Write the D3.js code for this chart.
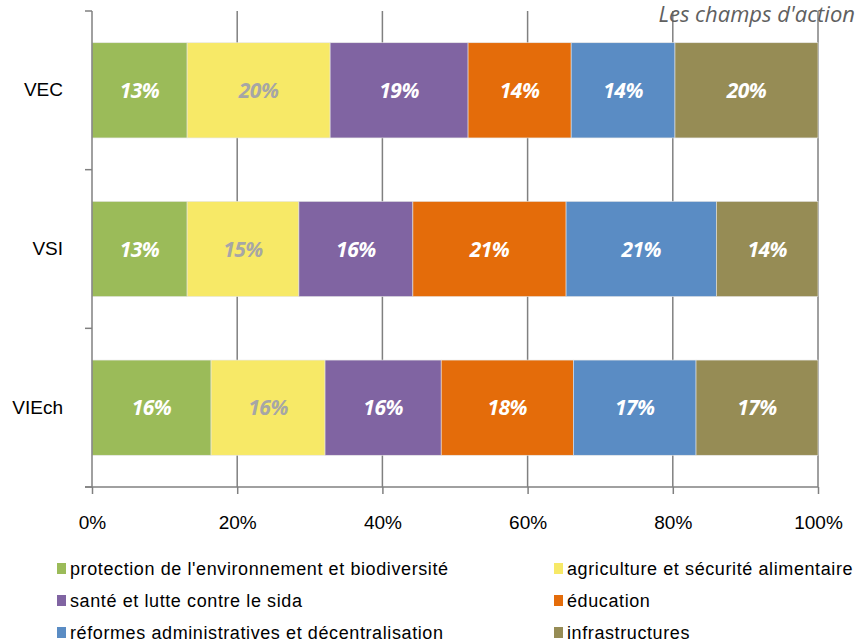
<!DOCTYPE html>
<html>
<head>
<meta charset="utf-8">
<script src="https://cdn.jsdelivr.net/npm/d3@7"></script>
<style>
  body { margin: 0; background: #fff; }
  svg { display: block; }
</style>
</head>
<body>
<svg id="chart" width="865" height="644"></svg>
<script>
// categories (top to bottom) and share of each field of action
const programmes = ["VEC", "VSI", "VIEch"];
const champs = [
  "protection de l'environnement et biodiversité",
  "agriculture et sécurité alimentaire",
  "santé et lutte contre le sida",
  "éducation",
  "réformes administratives et décentralisation",
  "infrastructures"
];
const vecValues = [0.131, 0.197, 0.190, 0.142, 0.143, 0.197];
const vsiValues = [0.131, 0.154, 0.157, 0.211, 0.207, 0.140];
const viechValues = [0.164, 0.157, 0.160, 0.182, 0.169, 0.168];
const xTicks = [0, 0.2, 0.4, 0.6, 0.8, 1];

const colors = ["#9BBB59", "#F7E967", "#8064A2", "#E46C0A", "#5A8CC4", "#968C55"];
const labelColors = ["#fff", "#A6A6A6", "#fff", "#fff", "#fff", "#fff"];

const rows = [vecValues, vsiValues, viechValues];
const svg = d3.select("#chart");

const margin = { top: 11, left: 92, right: 47, bottom: 157 };
const width = 865 - margin.left - margin.right;
const height = 644 - margin.top - margin.bottom;

const x = d3.scaleLinear().domain([0, 1]).range([0, width]);
const y = d3.scaleBand().domain(programmes).range([0, height]).paddingInner(0.4).paddingOuter(0.2);

const g = svg.append("g").attr("transform", `translate(${margin.left},${margin.top})`);

// vertical gridlines
g.selectAll(".grid")
  .data(xTicks.slice(1))
  .join("line")
    .attr("x1", d => x(d)).attr("x2", d => x(d))
    .attr("y1", 0).attr("y2", height)
    .attr("stroke", "#808080").attr("stroke-width", 1.5);

// stack each row
const stacked = rows.map((vals, i) => {
  let acc = 0;
  return vals.map((v, j) => {
    const s = { prog: programmes[i], k: j, x0: acc, x1: acc + v, v: v };
    acc += v;
    return s;
  });
}).flat();

g.selectAll(".seg")
  .data(stacked)
  .join("rect")
    .attr("class", "seg")
    .attr("x", d => x(d.x0))
    .attr("y", d => y(d.prog))
    .attr("width", d => x(d.x1) - x(d.x0))
    .attr("height", y.bandwidth())
    .attr("fill", d => colors[d.k])
    .attr("stroke", "#e6e6e6")
    .attr("stroke-width", 0.6);

g.selectAll(".lbl")
  .data(stacked)
  .join("text")
    .attr("x", d => x((d.x0 + d.x1) / 2))
    .attr("y", d => y(d.prog) + y.bandwidth() / 2)
    .attr("dy", "0.36em")
    .attr("text-anchor", "middle")
    .attr("font-family", "'Open Sans', sans-serif")
    .attr("font-style", "italic")
    .attr("font-weight", "bold")
    .attr("font-size", 21)
    .attr("letter-spacing", -0.5)
    .attr("fill", d => labelColors[d.k])
    .text(d => Math.round(d.v * 100) + "%");

// y axis
const yAxis = d3.axisLeft(y).tickSize(0).tickPadding(29);
const yg = g.append("g").call(yAxis);
yg.select(".domain").remove();
yg.selectAll("text")
  .attr("font-family", "'Liberation Sans', Arial, sans-serif")
  .attr("font-size", 19).attr("fill", "#000");

g.append("line")
  .attr("x1", 0).attr("x2", 0).attr("y1", 0).attr("y2", height)
  .attr("stroke", "#808080").attr("stroke-width", 1.5);
g.selectAll(".ytick")
  .data(d3.range(programmes.length + 1))
  .join("line")
    .attr("x1", -7).attr("x2", 0)
    .attr("y1", i => i * height / programmes.length)
    .attr("y2", i => i * height / programmes.length)
    .attr("stroke", "#808080").attr("stroke-width", 1.5);

// x axis
const xAxis = d3.axisBottom(x).tickValues(xTicks).tickFormat(d3.format(".0%")).tickSize(7).tickPadding(22);
const xg = g.append("g").attr("transform", `translate(0,${height})`).call(xAxis);
xg.select(".domain").attr("stroke", "#808080").attr("stroke-width", 1.5).attr("d", `M-7,0H${width}`);
xg.selectAll(".tick line").attr("stroke", "#808080").attr("stroke-width", 1.5);
xg.selectAll("text")
  .attr("font-family", "'Liberation Sans', Arial, sans-serif")
  .attr("font-size", 19).attr("fill", "#000");

// legend
const legend = svg.append("g").attr("transform", "translate(57,560)");
const items = legend.selectAll(".item")
  .data(champs)
  .join("g")
    .attr("transform", (d, i) => `translate(${(i % 2) * 497},${Math.floor(i / 2) * 32})`);
items.append("rect")
  .attr("x", 0).attr("y", 3).attr("width", 9).attr("height", 11)
  .attr("fill", (d, i) => colors[i]);
items.append("text")
  .attr("x", 13).attr("y", 9).attr("dy", "0.36em")
  .attr("font-family", "'Liberation Sans', Arial, sans-serif")
  .attr("font-size", 18).attr("letter-spacing", 0.6)
  .attr("fill", "#000")
  .text(d => d);

// title, top right
svg.append("text")
  .attr("x", 855).attr("y", 22)
  .attr("text-anchor", "end")
  .attr("font-family", "'Open Sans', sans-serif")
  .attr("font-style", "italic")
  .attr("font-size", 22)
  .attr("fill", "#606060")
  .text("Les champs d'action");
</script>
</body>
</html>
